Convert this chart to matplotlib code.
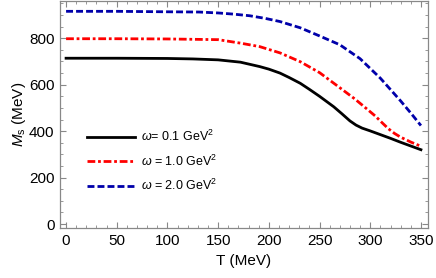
import numpy as np
import matplotlib
matplotlib.use("Agg")
import matplotlib.pyplot as plt
from matplotlib.ticker import MultipleLocator

plt.rcParams['font.family'] = ['Liberation Sans', 'DejaVu Sans']
plt.rcParams['mathtext.fontset'] = 'custom'
plt.rcParams['mathtext.it'] = 'Liberation Sans:italic'
plt.rcParams['mathtext.rm'] = 'Liberation Sans'

# values
T_black = [0, 50, 100, 125, 150, 172, 191, 200, 211, 220, 231, 240, 250, 264, 272, 280, 286, 292, 300, 310, 320, 330, 340, 350]
M_black = [714, 714, 713, 711, 707, 697, 678, 667, 650, 631, 606, 580, 550, 505, 475, 444, 426, 413, 401, 385, 369, 352, 336, 320]

T_red = [0, 50, 100, 150, 172, 191, 211, 231, 250, 270, 285, 296, 305, 312, 318, 324, 330, 340, 350]
M_red = [798, 798, 797, 794, 779, 764, 737, 699, 652, 587, 538, 498, 465, 435, 410, 390, 374, 353, 335]

T_blue = [0, 50, 100, 131, 150, 165, 181, 196, 211, 231, 250, 270, 290, 310, 330, 340, 350]
M_blue = [916, 916, 914, 913, 909, 904, 897, 886, 872, 845, 810, 772, 712, 628, 530, 478, 424]

labels = [r'$\omega$= 0.1 GeV$^2$', r'$\omega$ = 1.0 GeV$^2$', r'$\omega$ = 2.0 GeV$^2$']

fig = plt.figure(figsize=(4.36, 2.78), dpi=100)
ax = fig.add_axes([0.1376, 0.18, 0.8441, 0.816])

ax.plot(T_black, M_black, color='black', lw=2.0, label=labels[0])
ax.plot(T_red, M_red, color='red', lw=2.0, linestyle=(0, (2.8, 1.0, 1.0, 1.0)), label=labels[1])
ax.plot(T_blue, M_blue, color='#0000aa', lw=2.0, linestyle=(0, (2.5, 1.1)), label=labels[2])

ax.set_xlim(-6, 357)
ax.set_ylim(-17, 960)
ax.xaxis.set_major_locator(MultipleLocator(50))
ax.xaxis.set_minor_locator(MultipleLocator(10))
ax.yaxis.set_major_locator(MultipleLocator(200))
ax.yaxis.set_minor_locator(MultipleLocator(50))
ax.tick_params(which='both', direction='in', top=True, right=True, color='#888888',
               labeltop=False, labelright=False)
ax.tick_params(which='major', length=4, width=0.8, labelsize=11, pad=4)
ax.tick_params(which='minor', length=2, width=0.6)
for s in ax.spines.values():
    s.set_color('#888888')
    s.set_linewidth(0.9)

ax.set_xlabel('T (MeV)', fontsize=11, labelpad=5)
ax.set_ylabel(r'$M_\mathrm{s}$ (MeV)', fontsize=11, labelpad=1)

ax.legend(loc='upper left', bbox_to_anchor=(0.0734, 0.436), frameon=False, fontsize=9,
          borderpad=0, borderaxespad=0,
          handlelength=3.85, handletextpad=0.5, labelspacing=0.75)

fig.savefig('out.png', dpi=100)
